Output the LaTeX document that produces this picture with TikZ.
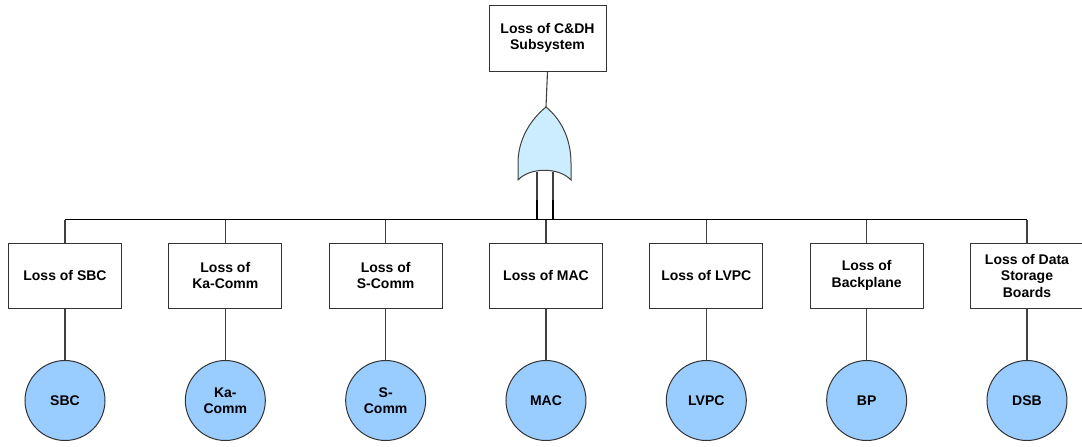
\documentclass[tikz,border=0pt]{standalone}
\usepackage{fontspec}
\setmainfont{Liberation Sans}
\definecolor{basiccol}{RGB}{153,204,255}
\definecolor{gatecol}{RGB}{204,236,255}
\begin{document}
\begin{tikzpicture}%
	[x=1pt,
	y=-1pt,
	font=\fontsize{14}{16.5}\selectfont\bfseries,
	event/.style={draw=black!80, fill=white, line width=1pt, minimum width=113pt, minimum height=65pt, align=center, inner sep=2pt},
	basic/.style={circle, draw=black!80, fill=basiccol, line width=1pt, minimum size=80pt, align=center, inner sep=0pt},
	edge/.style={color=black!75, line width=1.1pt},
	gate/.style={draw=black!75, fill=gatecol, line width=1pt},
	input/.style={color=black, line width=1.8pt}]
%
\useasboundingbox (0,0) rectangle (1082,447);
%%
%% Top event
%%
\node[event, minimum width=117pt, minimum height=66pt] (top) at (547.5,38) {Loss of C\&DH\\Subsystem};
%%
%% The OR gate
%%
\coordinate (gatetip) at (546,107);
\coordinate (gatein1) at (537,172);
\coordinate (gatein2) at (553,172);
\coordinate (busmid) at (546,220);
\draw[gate] (gatetip) .. controls (530,120) and (518,140) .. (518,163) -- (518,180)
	.. controls (530,167) and (559,167) .. (571,180) -- (571,163)
	.. controls (571,140) and (562,120) .. (gatetip) -- cycle;
\draw[edge] (top.south) -- (gatetip);
%%
%% Intermediate events and basic events
%%
\foreach \i/\lbl/\bas in {0/{Loss of SBC}/SBC,
		1/{Loss of\\Ka-Comm}/{Ka-\\Comm},
		2/{Loss of\\S-Comm}/{S-\\Comm},
		3/{Loss of MAC}/MAC,
		4/{Loss of LVPC}/LVPC,
		5/{Loss of\\Backplane}/BP,
		6/{Loss of Data\\Storage\\Boards}/DSB}
{
	\node[event] (ev\i) at ({65+160.33*\i},275.5) {\lbl};
	\node[basic] (be\i) at ({65+160.33*\i},400.5) {\bas};
	\draw[edge] (ev\i.south) -- (be\i.north);
	\draw[edge] (ev\i.north) -- ++(0,-23);
}
%%
%% Bus under the gate
%%
\draw[edge, color=black, line width=1.6pt] (ev0.north) ++(0,-23) coordinate (busleft) -- (busleft -| ev6.north);
\draw[edge] (gatein1) -- ++(0,28) coordinate (in1low);
\draw[edge] (gatein2) -- ++(0,28) coordinate (in2low);
\draw[input] (in1low) -- (gatein1 |- busmid);
\draw[input] (in2low) -- (gatein2 |- busmid);
\draw[edge] (busmid) -- ++(0,8);
\end{tikzpicture}
\end{document}
